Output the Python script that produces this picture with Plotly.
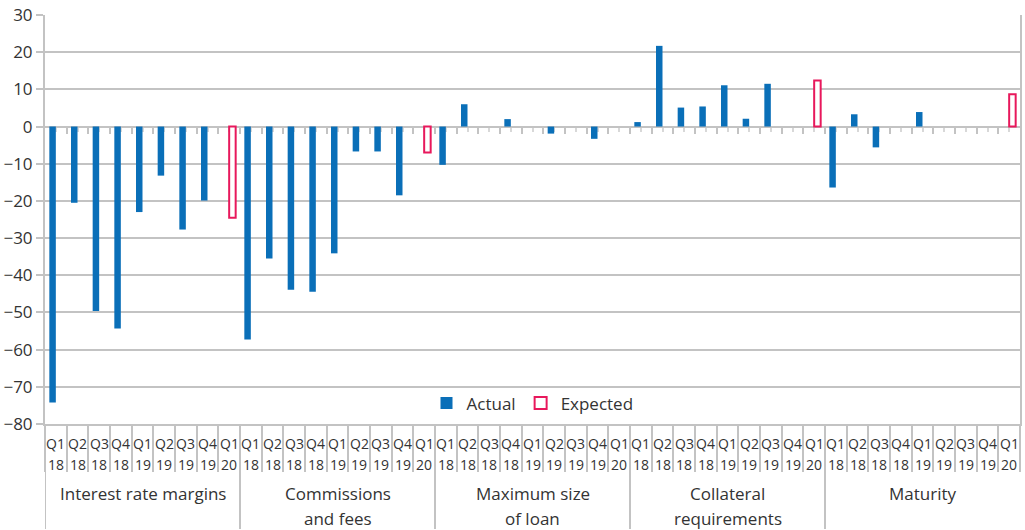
import plotly.graph_objects as go

# Survey items (group labels) and quarters (category labels)
groups = [
    "Interest rate margins",
    "Commissions<br>and fees",
    "Maximum size<br>of loan",
    "Collateral<br>requirements",
    "Maturity",
]
quarters = ["Q1", "Q2", "Q3", "Q4", "Q1", "Q2", "Q3", "Q4", "Q1"]
years = ["18", "18", "18", "18", "19", "19", "19", "19", "20"]

# Net percentages, actual changes (Q1 2018 - Q4 2019) per item
actual_interest = [-74.2, -20.5, -49.6, -54.3, -23.0, -13.2, -27.7, -19.9, None]
actual_commissions = [-57.3, -35.5, -43.9, -44.4, -34.1, -6.7, -6.7, -18.5, None]
actual_max_size = [-10.3, 6.0, 0.0, 2.0, 0.0, -1.9, 0.0, -3.3, None]
actual_collateral = [1.2, 21.7, 5.1, 5.4, 11.1, 2.1, 11.5, 0.0, None]
actual_maturity = [-16.4, 3.3, -5.6, 0.0, 3.9, 0.0, 0.0, 0.0, None]

# Expected changes for Q1 2020 per item
expected_q1_20 = [-24.5, -7.0, None, 12.4, 8.7]

actual_series = [actual_interest, actual_commissions, actual_max_size,
                 actual_collateral, actual_maturity]

BLUE = "#0a6fb8"
PINK = "#e8185c"
GRID = "#c3c3c3"
TEXT = "#333333"
FONT = "Open Sans"

W, H = 1025, 530
M_L, M_R, M_T, M_B = 45, 3, 15, 106
PLOT_H = H - M_T - M_B


def paper_y(px):
    """Convert a pixel row (from the top of the page) to paper y."""
    return (H - M_B - px) / PLOT_H


n_q = len(quarters)
n_cat = n_q * len(groups)
x_pos = list(range(n_cat))
actual_values = [v for s in actual_series for v in s]
expected_values = [expected_q1_20[i] if j == n_q - 1 else None
                   for i in range(len(groups)) for j in range(n_q)]

fig = go.Figure()
fig.add_trace(go.Bar(
    name="Actual",
    x=x_pos,
    y=actual_values,
    marker=dict(color=BLUE, line=dict(width=0)),
))
fig.add_trace(go.Bar(
    name="Expected",
    x=x_pos,
    y=expected_values,
    marker=dict(color="white", line=dict(color=PINK, width=2)),
))
# empty trace so the zero-line tick axis is rendered
fig.add_trace(go.Scatter(
    x=[None], y=[None], xaxis="x2", yaxis="y",
    mode="markers", showlegend=False, hoverinfo="skip",
))

y_min, y_max = -80, 30
zero_pos = (0 - y_min) / (y_max - y_min)

annotations = []
# quarter and year labels under each bar slot
for k in range(n_cat):
    j = k % n_q
    for txt, row in ((quarters[j], 443), (years[j], 464)):
        annotations.append(dict(
            x=k, y=paper_y(row), xref="x", yref="paper",
            text=txt, showarrow=False, xanchor="center", yanchor="middle",
            font=dict(size=14, color=TEXT),
        ))
# group labels, one annotation per text line
for i, g in enumerate(groups):
    centre = i * n_q + (n_q - 1) / 2
    for line, row in zip(g.split("<br>"), (493, 518)):
        annotations.append(dict(
            x=centre, y=paper_y(row), xref="x", yref="paper",
            text=line, showarrow=False, xanchor="center", yanchor="middle",
            font=dict(size=17, color=TEXT),
        ))

# dividers between groups, running down through the label rows
shapes = []
for i in range(len(groups)):
    xb = i * n_q - 0.5
    shapes.append(dict(
        type="line", xref="x", yref="paper",
        x0=xb, x1=xb, y0=0, y1=paper_y(529),
        line=dict(color=GRID, width=2),
    ))

fig.update_layout(
    width=W,
    height=H,
    margin=dict(l=M_L, r=M_R, t=M_T, b=M_B),
    paper_bgcolor="white",
    plot_bgcolor="white",
    font=dict(family=FONT, color=TEXT),
    barmode="group",
    bargap=0.4,
    bargroupgap=0,
    showlegend=True,
    legend=dict(
        orientation="h",
        x=0.5, xanchor="center",
        y=0.05, yanchor="middle",
        font=dict(size=17, color=TEXT),
        bgcolor="rgba(0,0,0,0)",
        itemwidth=30,
    ),
    annotations=annotations,
    shapes=shapes,
    xaxis=dict(
        range=[-0.5, n_cat - 0.5],
        showline=True, linecolor=GRID, linewidth=2,
        tickmode="array",
        tickvals=[k - 0.5 for k in range(n_cat + 1)],
        showticklabels=False,
        ticks="outside", ticklen=46, tickcolor=GRID, tickwidth=2,
        showgrid=False, zeroline=False,
    ),
    # tick marks along the zero line: boundaries (major) and centres (minor)
    xaxis2=dict(
        overlaying="x",
        anchor="free",
        position=zero_pos,
        side="bottom",
        range=[-0.5, n_cat - 0.5],
        tickmode="array",
        tickvals=[k + 0.5 for k in range(n_cat - 1)],
        ticks="outside", ticklen=6, tickcolor=GRID, tickwidth=2,
        showticklabels=False,
        showgrid=False, showline=False, zeroline=False,
        layer="below traces",
        minor=dict(tickmode="array", tickvals=x_pos,
                   ticks="outside", ticklen=4, tickcolor="#d8d8d8", tickwidth=2),
    ),
    yaxis=dict(
        range=[y_min, y_max],
        dtick=10,
        showline=True, linecolor=GRID, linewidth=2, mirror=True,
        ticks="outside", ticklen=7, tickcolor=GRID, tickwidth=2,
        showgrid=True, gridcolor=GRID, gridwidth=2,
        zeroline=False,
        tickfont=dict(size=17, color=TEXT),
    ),
)

fig.write_html("out.html")
